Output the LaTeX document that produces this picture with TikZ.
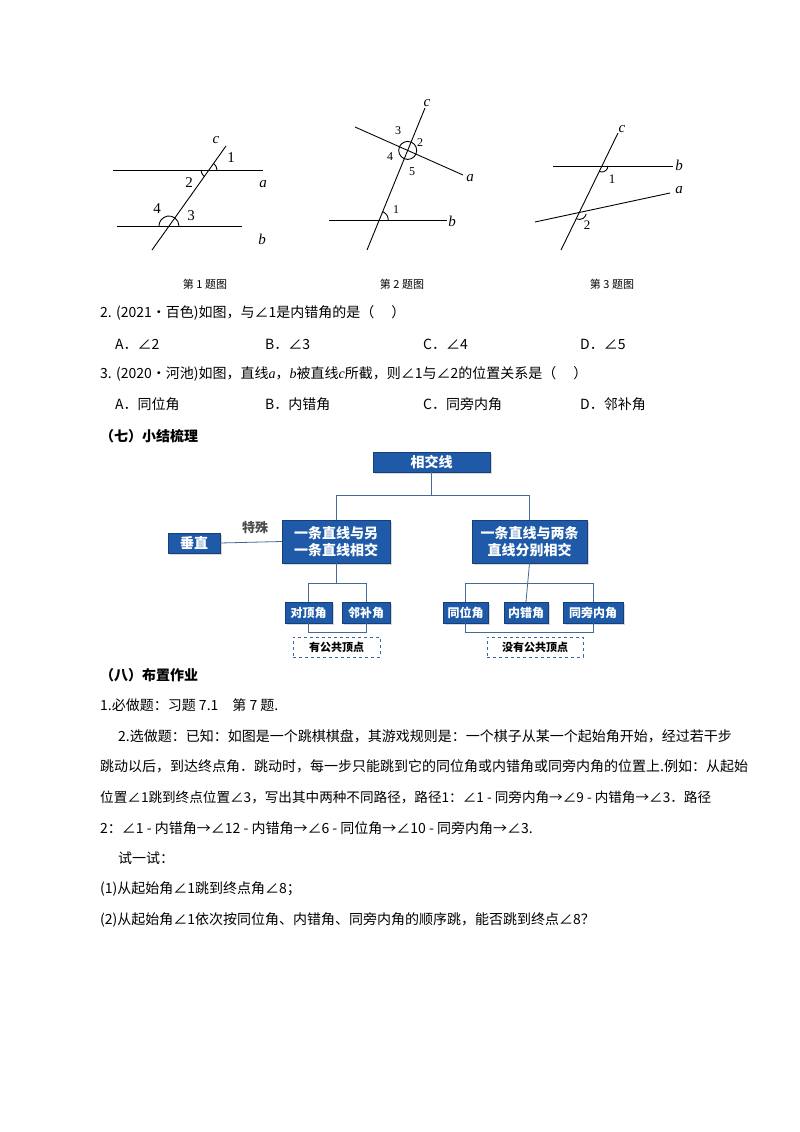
\documentclass[tikz,border=0pt]{standalone}
\usepackage{fontspec}
\setmainfont{Noto Sans CJK SC}
\newfontfamily\lat{Liberation Serif}
\newcommand{\vi}[1]{{\lat\itshape #1}}
\usetikzlibrary{shadows}
\definecolor{bx}{HTML}{1E5AA8}
\begin{document}
\begin{tikzpicture}[x=1pt,y=-1pt,
 fig/.style={line width=0.9pt},
 lab/.style={font=\lat\fontsize{15}{15}\selectfont,inner sep=0pt},
 blue/.style={draw=bx!70!black,fill=bx,text=white,font=\fontsize{14}{17}\selectfont\bfseries,align=center,inner sep=0pt,drop shadow={shadow xshift=1.5pt,shadow yshift=-1.5pt,opacity=0.3}},
 conn/.style={draw=bx!60!gray,line width=0.8pt},
 body/.style={anchor=west,inner sep=0pt,font=\fontsize{14}{16}\selectfont},
 figcap/.style={inner sep=0pt,font=\fontsize{11}{12}\selectfont}]
\useasboundingbox (0,0) rectangle (800,1132);
\fill[white] (0,0) rectangle (800,1132);
% Figure 1
\draw[fig] (113,170) -- (263,170);
\draw[fig] (117,226) -- (242,226);
\draw[fig] (152,250) -- (226,146);
\draw[fig] (217,170) arc[start angle=0,end angle=-54.6,radius=8];
\draw[fig] (201,170) arc[start angle=-180,end angle=-234.6,radius=8];
\draw[fig] (179,226) arc[start angle=0,end angle=-54.6,radius=10];
\draw[fig] (169,226) ++(-54.6:10) arc[start angle=-54.6,end angle=-180,radius=10];
\node[lab] (c1) at (216,140) {\itshape c};
\node[lab] (n1) at (231,158) {1};
\node[lab] (n2) at (189,183) {2};
\node[lab] (a1) at (263,184) {\itshape a};
\node[lab] (n4) at (157,209) {4};
\node[lab] (n3) at (191,216) {3};
\node[lab] (b1) at (262,239) {\itshape b};
\node[figcap] (cap1) at (205,284) {第 1 题图};
% Figure 2
\draw[fig] (367,250) -- (425,108);
\draw[fig] (355,127) -- (463,175);
\draw[fig] (329,220) -- (447,220);
\draw[fig] (407.7,150.4) circle (9);
\draw[fig] (388.3,220) arc[start angle=0,end angle=-67.8,radius=9];
\node[lab] (c2) at (427,103) {\itshape c};
\node[lab] (a2) at (470,178) {\itshape a};
\node[lab] (b2) at (452,221) {\itshape b};
\node[lab,font=\lat\fontsize{12}{12}\selectfont] (m3) at (398,131) {3};
\node[lab,font=\lat\fontsize{12}{12}\selectfont] (m2) at (420,143) {2};
\node[lab,font=\lat\fontsize{12}{12}\selectfont] (m4) at (390,157) {4};
\node[lab,font=\lat\fontsize{12}{12}\selectfont] (m5) at (412,172) {5};
\node[lab,font=\lat\fontsize{12}{12}\selectfont] (m1) at (396,210) {1};
\node[figcap] (cap2) at (402,284) {第 2 题图};
% Figure 3
\draw[fig] (561,250) -- (618,133);
\draw[fig] (553,166) -- (673,166);
\draw[fig] (535,222) -- (670,193);
\draw[fig] (601.9,166) ++(116:6) arc[start angle=116,end angle=0,radius=6];
\draw[fig] (579.3,212.5) ++(116:7) arc[start angle=116,end angle=12,radius=7];
\node[lab] (c3) at (622,129) {\itshape c};
\node[lab] (b3) at (679,165) {\itshape b};
\node[lab] (a3) at (679,190) {\itshape a};
\node[lab,font=\lat\fontsize{13}{13}\selectfont] (p1) at (612,179) {1};
\node[lab,font=\lat\fontsize{13}{13}\selectfont] (p2) at (587,225) {2};
\node[figcap] (cap3) at (612,284) {第 3 题图};
% Questions
\node[body] (q2) at (100,313) {2. (2021•百色)如图，与∠1是内错角的是（\quad\ ）};
\node[body] (o1) at (115,344) {A．∠2};
\node[body] (o2) at (265,344) {B．∠3};
\node[body] (o3) at (423,344) {C．∠4};
\node[body] (o4) at (580,344) {D．∠5};
\node[body] (q3) at (100,374) {3. (2020•河池)如图，直线\vi{a}，\vi{b}被直线\vi{c}所截，则∠1与∠2的位置关系是（\quad\ ）};
\node[body] (r1) at (115,404) {A．同位角};
\node[body] (r2) at (265,404) {B．内错角};
\node[body] (r3) at (423,404) {C．同旁内角};
\node[body] (r4) at (580,404) {D．邻补角};
\node[body,font=\fontsize{14}{16}\selectfont\bfseries] (h7) at (100,436) {（七）小结梳理};
% Concept map
\node[blue,minimum width=117,minimum height=20] (top) at (431.5,462) {相交线};
\node[blue,minimum width=108,minimum height=43] (L) at (336,541.5) {一条直线与另\\一条直线相交};
\node[blue,minimum width=115,minimum height=43] (R) at (529.5,541.5) {一条直线与两条\\直线分别相交};
\node[blue,minimum width=52,minimum height=20] (perp) at (194,543) {垂直};
\node[blue,minimum width=47,minimum height=21,font=\fontsize{12}{14}\selectfont\bfseries] (d1) at (308.5,612.5) {对顶角};
\node[blue,minimum width=48,minimum height=21,font=\fontsize{12}{14}\selectfont\bfseries] (d2) at (366,612.5) {邻补角};
\node[blue,minimum width=45,minimum height=21,font=\fontsize{12}{14}\selectfont\bfseries] (e1) at (465.5,612.5) {同位角};
\node[blue,minimum width=44,minimum height=21,font=\fontsize{12}{14}\selectfont\bfseries] (e2) at (526,612.5) {内错角};
\node[blue,minimum width=60,minimum height=21,font=\fontsize{12}{14}\selectfont\bfseries] (e3) at (593,612.5) {同旁内角};
\node[draw=bx!70!gray,dashed,minimum width=87,minimum height=20,inner sep=0pt,font=\fontsize{11}{12}\selectfont\bfseries] (g1) at (336.5,647) {有公共顶点};
\node[draw=bx!70!gray,dashed,minimum width=96,minimum height=20,inner sep=0pt,font=\fontsize{11}{12}\selectfont\bfseries] (g2) at (535,647) {没有公共顶点};
\node[inner sep=0pt,text=gray!60!black,font=\fontsize{13}{14}\selectfont\bfseries] (sp) at (255,528) {特殊};
\draw[conn] (top.south) -- ++(0,23) coordinate (j0);
\draw[conn] (L.north |- j0) -- (R.north |- j0);
\draw[conn] (L.north |- j0) -- (L.north);
\draw[conn] (R.north |- j0) -- (R.north);
\draw[conn] (perp.east) -- (L.west);
\draw[conn] (L.south) -- ++(0,20) coordinate (j1);
\draw[conn] (d1.north |- j1) -- (d2.north |- j1);
\draw[conn] (d1.north |- j1) -- (d1.north);
\draw[conn] (d2.north |- j1) -- (d2.north);
\draw[conn] (R.south) -- (e2.north);
\draw[conn] (e1.north |- j1) -- (e3.north |- j1);
\draw[conn] (e1.north |- j1) -- (e1.north);
\draw[conn] (e3.north |- j1) -- (e3.north);
\draw[conn] (d1.south) -- ++(0,9) -| (d2.south);
\draw[conn] (e1.south) -- ++(0,9) -| (e3.south);
% Homework
\node[body,font=\fontsize{14}{16}\selectfont\bfseries] (h8) at (100,675) {（八）布置作业};
\node[body] (t1) at (100,705) {1.必做题：习题 7.1\quad 第 7 题.};
\node[body] (t2) at (118,736) {2.选做题：已知：如图是一个跳棋棋盘，其游戏规则是：一个棋子从某一个起始角开始，经过若干步};
\node[body] (t3) at (100,766) {跳动以后，到达终点角．跳动时，每一步只能跳到它的同位角或内错角或同旁内角的位置上.例如：从起始};
\node[body,font=\fontsize{13.6}{16}\selectfont] (t4) at (100,797) {位置∠1跳到终点位置∠3，写出其中两种不同路径，路径1：∠1 - 同旁内角→∠9 - 内错角→∠3．路径};
\node[body] (t5) at (100,828) {2：∠1 - 内错角→∠12 - 内错角→∠6 - 同位角→∠10 - 同旁内角→∠3.};
\node[body] (t6) at (118,858) {试一试：};
\node[body] (t7) at (100,889) {(1)从起始角∠1跳到终点角∠8；};
\node[body] (t8) at (100,920) {(2)从起始角∠1依次按同位角、内错角、同旁内角的顺序跳，能否跳到终点∠8？};
\end{tikzpicture}
\end{document}
